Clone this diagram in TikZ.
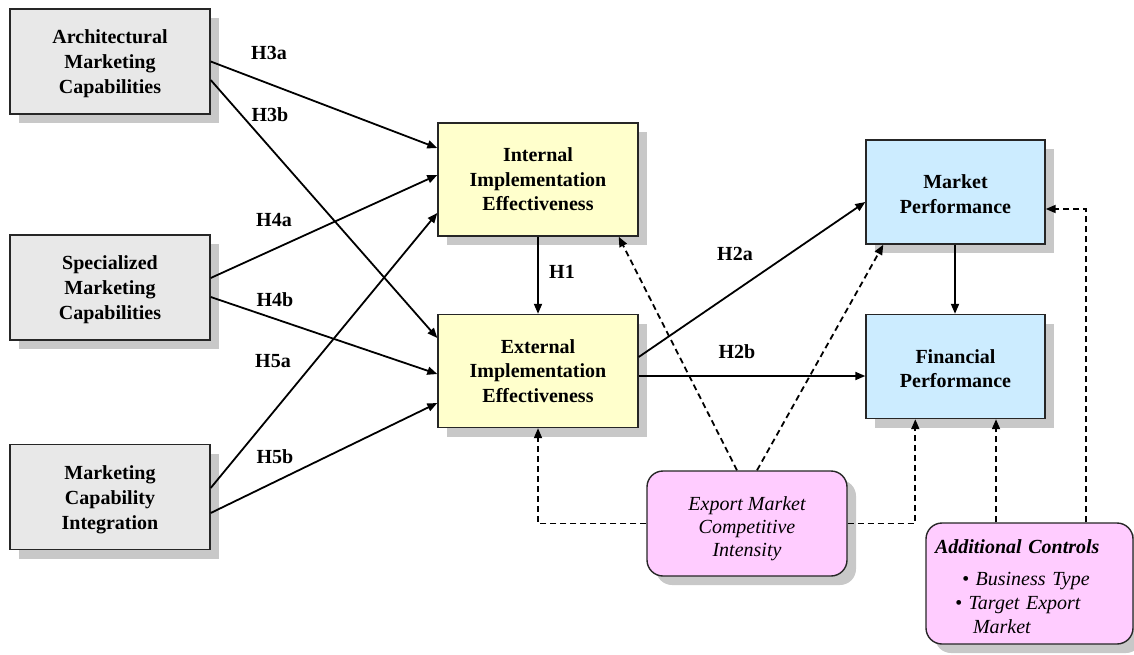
\documentclass[tikz,border=0pt]{standalone}
\usepackage{fontspec}
\setmainfont{Liberation Serif}
\usetikzlibrary{arrows.meta,shadows,calc}
\definecolor{boxgray}{HTML}{E8E8E8}
\definecolor{boxyellow}{HTML}{FFFFCC}
\definecolor{boxblue}{HTML}{CCECFF}
\definecolor{boxpink}{HTML}{FFCCFF}
\definecolor{shadowgray}{HTML}{C8C8C8}
\tikzset{
  base/.style={draw=black!85, line width=1.4pt, inner sep=0pt, align=center,
    font=\fontsize{20}{24.5}\selectfont\bfseries,
    drop shadow={shadow xshift=9pt, shadow yshift=-9pt, fill=shadowgray, opacity=1}},
  graybox/.style={base, fill=boxgray, minimum width=200pt, minimum height=105pt,
    font=\fontsize{20}{25}\selectfont\bfseries},
  yellowbox/.style={base, fill=boxyellow, minimum width=200pt, minimum height=113pt},
  bluebox/.style={base, fill=boxblue, minimum width=179pt, minimum height=104pt},
  pinkbox/.style={base, fill=boxpink, rounded corners=16pt,
    font=\fontsize{20}{23}\selectfont\itshape},
  arr/.style={line width=1.8pt, -{Triangle[length=10pt,width=8pt]}},
  darr/.style={arr, dash pattern=on 6pt off 4pt},
  hlab/.style={font=\fontsize{20}{24}\selectfont\bfseries, inner sep=0pt}
}
\begin{document}
\begin{tikzpicture}[x=1pt,y=-1pt]
\useasboundingbox (0,0) rectangle (1134,655);
% left column
\node[graybox] (arch) at (110,61.5) {\rule{0pt}{19pt}Architectural\\Marketing\\Capabilities};
\node[graybox] (spec) at (110,287.5) {\rule{0pt}{19pt}Specialized\\Marketing\\Capabilities};
\node[graybox] (mci)  at (110,497) {\rule{0pt}{19pt}Marketing\\Capability\\Integration};
% middle
\node[yellowbox] (int) at (538,179.5) {Internal\\Implementation\\Effectiveness};
\node[yellowbox] (ext) at (538,371) {External\\Implementation\\Effectiveness};
% right
\node[bluebox] (mp) at (955.5,192) {\rule{0pt}{18pt}Market\\Performance};
\node[bluebox] (fp) at (955.5,366.5) {\rule{0pt}{18pt}Financial\\Performance};
% moderators
\node[pinkbox, minimum width=200pt, minimum height=105pt] (emc) at (747,523.5)
  {\rule{0pt}{24pt}Export Market\\Competitive\\Intensity};
\node[pinkbox, minimum width=207pt, minimum height=121pt, align=left,
  text width=189pt, font=\fontsize{20}{24}\selectfont\itshape] (ac) at (1029.5,583.5)
  {\rule{0pt}{21pt}{\bfseries Additional Controls}\\[8pt]
   \hspace*{27pt}• Business Type\\
   \hspace*{20pt}• Target Export\\
   \hspace*{38pt}Market};
% solid arrows
\draw[arr] (arch.east) -- ([yshift=31.5pt]int.west);
\draw[arr] ([yshift=-18.5pt]arch.east) -- ([yshift=33pt]ext.west);
\draw[arr] ([yshift=9.5pt]spec.east) -- ([yshift=4.5pt]int.west);
\draw[arr] ([yshift=-9.5pt]spec.east) -- ([yshift=-3pt]ext.west);
\draw[arr] ([yshift=9pt]mci.east) -- ([yshift=-33.5pt]int.west);
\draw[arr] ([yshift=-16pt]mci.east) -- ([yshift=-32pt]ext.west);
\draw[arr] (int.south) -- (ext.north);
\draw[arr] ([yshift=14pt]ext.east) -- ([yshift=-10pt]mp.west);
\draw[arr] ([yshift=-5pt]ext.east) -- ([yshift=-5pt]ext.east -| fp.west);
\draw[arr] ([xshift=-0.5pt]mp.south) -- ([xshift=-0.5pt]mp.south |- fp.north);
% dashed arrows
\draw[darr] ([xshift=-10pt]emc.north) -- ([xshift=-20pt]int.south east);
\draw[darr] ([xshift=10pt]emc.north) -- ([xshift=18pt]mp.south west);
\draw[darr] (emc.west) -| (ext.south);
\draw[darr] (emc.east) -| ([xshift=50pt]fp.south west);
\draw[darr] ([xshift=-33.5pt]ac.north) -- ([xshift=-33.5pt]ac.north |- fp.south);
\draw[darr] ([xshift=56.5pt]ac.north) |- ([yshift=-17pt]mp.east);
% labels
\node[hlab] (l3a) at (269,53) {H3a};
\node[hlab] (l3b) at (270,115) {H3b};
\node[hlab] (l4a) at (274,220) {H4a};
\node[hlab] (l4b) at (275,300) {H4b};
\node[hlab] (l5a) at (273,361) {H5a};
\node[hlab] (l5b) at (275,457) {H5b};
\node[hlab] (l1)  at (562,272) {H1};
\node[hlab] (l2a) at (735,254) {H2a};
\node[hlab] (l2b) at (737,352) {H2b};
\end{tikzpicture}
\end{document}
